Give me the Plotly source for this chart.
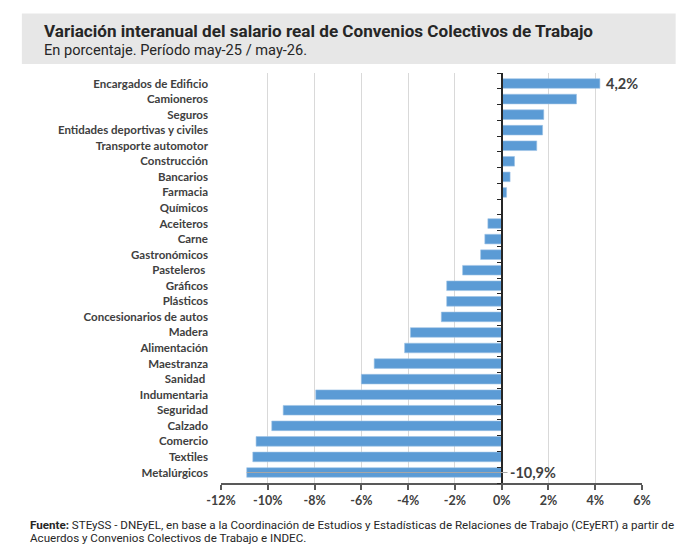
import plotly.graph_objects as go

# --- datos (variación % interanual del salario real) ---
convenios = [
    "Encargados de Edificio", "Camioneros", "Seguros", "Entidades deportivas y civiles",
    "Transporte automotor", "Construcción", "Bancarios", "Farmacia", "Químicos",
    "Aceiteros", "Carne", "Gastronómicos", "Pasteleros ", "Gráficos", "Plásticos",
    "Concesionarios de autos", "Madera", "Alimentación", "Maestranza", "Sanidad ",
    "Indumentaria", "Seguridad", "Calzado", "Comercio", "Textiles", "Metalúrgicos",
]
variacion = [
    4.2, 3.2, 1.8, 1.75, 1.5, 0.55, 0.36, 0.21, 0.0,
    -0.59, -0.72, -0.9, -1.67, -2.35, -2.35, -2.58, -3.9, -4.15,
    -5.45, -6.0, -7.95, -9.34, -9.83, -10.5, -10.64, -10.9,
]
x_ticks = [-12, -10, -8, -6, -4, -2, 0, 2, 4, 6]
x_ticktext = [f"{v}%" for v in x_ticks]

AZUL = "#5B9BD5"
GRIS_TXT = "#404040"

fig = go.Figure()
fig.add_trace(go.Bar(
    x=variacion, y=convenios, orientation="h",
    marker=dict(color=AZUL, line=dict(color="#9DC3E6", width=0.6)),
    width=0.62, hoverinfo="x+y",
))
# traza invisible para dibujar el eje vertical en el 0 (estilo Excel)
fig.add_trace(go.Bar(
    x=[0] * len(convenios), y=convenios, orientation="h",
    yaxis="y2", marker=dict(color="rgba(0,0,0,0)"), hoverinfo="skip",
))

fig.update_layout(
    width=696, height=548,
    margin=dict(l=221, r=54, t=73, b=65),
    paper_bgcolor="white", plot_bgcolor="white",
    showlegend=False, barmode="overlay",
    font=dict(family="Lato", color=GRIS_TXT),
    xaxis=dict(
        range=[-12, 6], tickvals=x_ticks, ticktext=x_ticktext,
        showgrid=True, gridcolor="#D9D9D9", gridwidth=1,
        zeroline=False,
        showline=True, linecolor="#595959", linewidth=1.5,
        ticks="outside", ticklen=5, tickcolor="#595959", tickwidth=1.5,
        tickfont=dict(family="Lato", size=12.5, color=GRIS_TXT, weight="bold"),
    ),
    yaxis=dict(
        categoryorder="array", categoryarray=convenios[::-1],
        showline=False, ticks="", ticklabelstandoff=12,
        tickfont=dict(family="Lato", size=11.5, color=GRIS_TXT, weight="bold"),
    ),
    yaxis2=dict(
        overlaying="y", anchor="free", position=12 / 18, side="left",
        categoryorder="array", categoryarray=convenios[::-1],
        showticklabels=False, showgrid=False,
        showline=True, linecolor="#262626", linewidth=1.5,
        ticks="outside", tickson="boundaries", ticklen=4, tickcolor="#262626",
    ),
)

# cabecera gris
fig.add_shape(type="rect", xref="paper", yref="paper",
              x0=-0.473, x1=1.08, y0=1.022, y1=1.145,
              fillcolor="#E7E7E7", line=dict(width=0), layer="below")
fig.add_annotation(xref="paper", yref="paper", x=-0.425, y=1.103,
                   xanchor="left", yanchor="middle", showarrow=False,
                   text="<b>Variación interanual del salario real de Convenios Colectivos de Trabajo</b>",
                   font=dict(family="Roboto", size=17.1, color="#262626"))
fig.add_annotation(xref="paper", yref="paper", x=-0.425, y=1.056,
                   xanchor="left", yanchor="middle", showarrow=False,
                   text="En porcentaje. Período may-25 / may-26.",
                   font=dict(family="Roboto", size=14.6, color="#262626"))

# etiquetas de valores extremos
fig.add_annotation(x=variacion[0], y=convenios[0], xanchor="left", xshift=4,
                   showarrow=False, text="<b>4,2%</b>",
                   font=dict(family="Lato", size=14.5, color=GRIS_TXT))
fig.add_annotation(x=variacion[-1], y=convenios[-1], ax=0.25, ay=convenios[-1],
                   axref="x", ayref="y", xanchor="left",
                   showarrow=True, arrowhead=0, arrowwidth=1, arrowcolor="#A6A6A6",
                   text="<b>-10,9%</b>",
                   font=dict(family="Lato", size=14.5, color=GRIS_TXT))

# fuente
fig.add_annotation(xref="paper", yref="paper", x=-0.458, y=-0.102,
                   xanchor="left", yanchor="middle", showarrow=False, align="left",
                   text="<b>Fuente:</b> STEySS - DNEyEL, en base a la Coordinación de Estudios y "
                        "Estadísticas de Relaciones de Trabajo (CEyERT) a partir de",
                   font=dict(family="Roboto", size=11.6, color="#262626"))
fig.add_annotation(xref="paper", yref="paper", x=-0.458, y=-0.134,
                   xanchor="left", yanchor="middle", showarrow=False, align="left",
                   text="Acuerdos y Convenios Colectivos de Trabajo e INDEC.",
                   font=dict(family="Roboto", size=11.6, color="#262626"))

fig.write_html("out.html", config={"displayModeBar": False},
               post_script="document.body.style.margin='0px';")
